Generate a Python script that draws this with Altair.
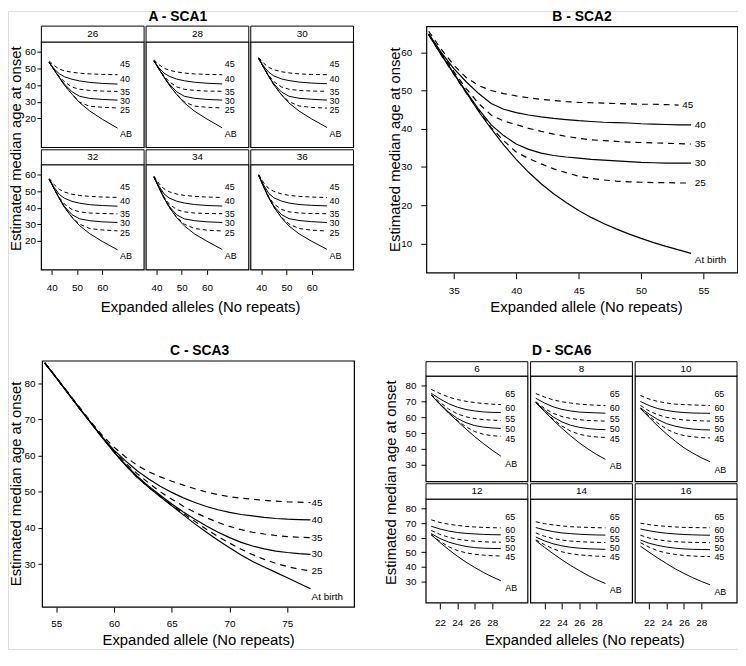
import altair as alt
import pandas as pd

FONT = "Liberation Sans"

# ======================= DATA =======================
# ---- A - SCA1 : six lattice panels, curves by age ----
A_PANELS = ["26", "28", "30", "32", "34", "36"]
A_CURVES = ["AB", "25", "30", "35", "40", "45"]
A_DASHED = ["25", "35", "45"]
A_X = [39, 41, 43, 45, 48, 51, 55, 60, 66]
A26 = [[53.5, 49.0, 44.5, 40.0, 34.5, 29.5, 24.5, 19.5, 14.2],
       [53.5, 49.0, 44.5, 40.0, 34.6, 29.7, 27.3, 26.7, 26.3],
       [53.5, 49.0, 44.6, 40.6, 36.0, 33.3, 32.0, 31.4, 31.0],
       [53.5, 49.1, 45.1, 42.0, 38.8, 37.5, 36.8, 36.4, 36.2],
       [53.6, 49.6, 46.8, 45.0, 43.5, 42.5, 41.6, 41.0, 40.6],
       [54.4, 51.6, 49.6, 48.5, 47.7, 47.1, 46.7, 46.4, 46.2]]
A28 = [[54.5, 49.6, 44.8, 40.1, 34.3, 29.4, 24.4, 19.6, 14.4],
       [54.5, 49.6, 44.8, 40.1, 34.5, 30.0, 27.4, 26.7, 26.3],
       [54.5, 49.6, 44.9, 40.7, 36.0, 33.3, 32.1, 31.4, 31.0],
       [54.5, 49.8, 45.4, 42.1, 38.9, 37.5, 36.8, 36.4, 36.3],
       [54.6, 50.3, 47.2, 45.3, 43.6, 42.6, 41.7, 41.1, 40.7],
       [55.2, 52.2, 50.1, 48.9, 47.9, 47.2, 46.7, 46.4, 46.2]]
A30 = [[56.0, 50.5, 45.2, 40.2, 34.2, 29.3, 24.4, 19.7, 14.6],
       [56.0, 50.5, 45.2, 40.2, 34.4, 30.1, 27.5, 26.6, 26.2],
       [56.0, 50.5, 45.3, 40.8, 35.9, 33.3, 32.1, 31.5, 31.0],
       [56.0, 50.7, 45.8, 42.1, 38.9, 37.5, 36.8, 36.4, 36.3],
       [56.1, 51.3, 47.7, 45.5, 43.7, 42.7, 41.8, 41.2, 40.8],
       [56.6, 53.1, 50.6, 49.2, 48.0, 47.3, 46.7, 46.4, 46.2]]
A32 = [[57.0, 51.2, 45.5, 40.3, 34.1, 29.2, 24.4, 19.7, 14.7],
       [57.0, 51.2, 45.5, 40.3, 34.4, 30.1, 27.5, 26.6, 26.1],
       [57.0, 51.2, 45.6, 40.8, 35.8, 33.3, 32.2, 31.5, 31.1],
       [57.0, 51.4, 46.1, 42.2, 38.9, 37.5, 36.8, 36.5, 36.3],
       [57.1, 52.1, 48.0, 45.7, 43.8, 42.7, 41.8, 41.3, 40.9],
       [57.6, 53.8, 51.0, 49.4, 48.1, 47.3, 46.8, 46.4, 46.2]]
A34 = [[58.5, 52.0, 45.8, 40.4, 34.0, 29.1, 24.3, 19.8, 14.9],
       [58.5, 52.0, 45.8, 40.4, 34.3, 30.1, 27.5, 26.5, 26.0],
       [58.5, 52.0, 45.9, 40.9, 35.7, 33.3, 32.2, 31.5, 31.1],
       [58.5, 52.2, 46.4, 42.2, 38.9, 37.5, 36.8, 36.5, 36.4],
       [58.6, 53.0, 48.3, 45.8, 43.9, 42.8, 41.9, 41.3, 41.0],
       [59.0, 54.5, 51.3, 49.6, 48.2, 47.4, 46.8, 46.4, 46.1]]
A36 = [[59.5, 52.5, 46.0, 40.5, 34.0, 29.0, 24.3, 19.8, 15.0],
       [59.5, 52.5, 46.0, 40.5, 34.3, 30.2, 27.5, 26.5, 26.0],
       [59.5, 52.5, 46.1, 41.0, 35.9, 33.4, 32.3, 31.6, 31.1],
       [59.5, 52.7, 46.6, 42.3, 39.0, 37.5, 36.8, 36.5, 36.4],
       [59.6, 53.6, 48.6, 46.0, 44.0, 42.8, 41.9, 41.4, 41.1],
       [60.0, 55.0, 51.5, 49.8, 48.3, 47.4, 46.8, 46.4, 46.1]]
A_SERIES = [A26, A28, A30, A32, A34, A36]
A_LABEL_X = 67.0
A_LABEL_Y = [10.7, 25.0, 30.5, 36.0, 43.8, 52.5]
A_XTICKS = [40, 50, 60]
A_YTICKS = [20, 30, 40, 50, 60]

# ---- B - SCA2 ----
B_CURVES = ["At birth", "25", "30", "35", "40", "45"]
B_DASHED = ["25", "35", "45"]
B_X = [33, 34, 35, 36, 37, 38, 39, 40, 41, 42, 43, 44, 45, 46, 47, 48, 49, 50, 51, 52, 53, 54]
B_X45 = [33, 34, 35, 36, 37, 38, 39, 40, 41, 42, 43, 44, 45, 46, 47, 48, 49, 50, 51, 52, 53]
B_AB = [64.6, 59.5, 54.5, 49.5, 44.5, 40.0, 35.8, 32.0, 28.6, 25.6, 23.0, 20.7, 18.6, 16.8, 15.2, 13.8, 12.5, 11.3, 10.2, 9.2, 8.3, 7.4]
B_25 = [64.6, 59.3, 54.3, 49.4, 44.7, 40.3, 36.9, 33.9, 32.2, 30.8, 29.5, 28.5, 27.6, 27.0, 26.6, 26.3, 26.1, 26.0, 25.9, 25.9, 25.8, 25.8]
B_30 = [64.6, 59.4, 54.5, 49.7, 45.1, 41.0, 38.2, 36.0, 34.6, 33.6, 33.0, 32.6, 32.3, 32.0, 31.8, 31.6, 31.4, 31.2, 31.1, 31.0, 31.0, 31.0]
B_35 = [64.8, 59.8, 55.0, 50.5, 46.6, 43.6, 42.0, 41.1, 40.1, 39.3, 38.6, 38.0, 37.5, 37.1, 36.9, 36.7, 36.5, 36.4, 36.3, 36.2, 36.1, 36.0]
B_40 = [64.8, 60.0, 55.8, 52.3, 49.2, 46.6, 45.1, 44.2, 43.6, 43.1, 42.7, 42.4, 42.1, 41.9, 41.7, 41.6, 41.5, 41.3, 41.2, 41.1, 41.0, 41.0]
B_45 = [65.5, 60.8, 56.7, 53.4, 51.3, 50.0, 49.2, 48.6, 48.1, 47.7, 47.4, 47.1, 46.9, 46.8, 46.7, 46.6, 46.5, 46.4, 46.4, 46.3, 46.2]
B_LABEL_X = [54.3, 54.3, 54.3, 54.3, 54.3, 53.3]
B_LABEL_Y = [5.6, 25.8, 31.0, 36.0, 41.0, 46.3]
B_XTICKS = [35, 40, 45, 50, 55]
B_YTICKS = [10, 20, 30, 40, 50, 60]

# ---- C - SCA3 ----
C_CURVES = ["At birth", "25", "30", "35", "40", "45"]
C_DASHED = ["25", "35", "45"]
C_X = [54, 55, 56, 57, 58, 59, 60, 61, 62, 63, 64, 65, 66, 67, 68, 69, 70, 71, 72, 73, 74, 75, 76, 77]
C_AB = [85.6, 81.5, 77.3, 73.1, 69.0, 64.9, 60.9, 57.3, 54.0, 51.2, 48.6, 46.1, 43.6, 41.1, 38.8, 36.6, 34.5, 32.5, 30.7, 29.2, 27.7, 26.2, 24.7, 23.2]
C_25 = [85.6, 81.5, 77.3, 73.1, 69.0, 64.9, 60.9, 57.3, 54.0, 51.2, 48.7, 46.3, 44.0, 41.8, 39.6, 37.6, 35.8, 34.1, 32.6, 31.3, 30.2, 29.3, 28.6, 28.1]
C_30 = [85.6, 81.5, 77.3, 73.1, 69.0, 64.9, 61.0, 57.5, 54.3, 51.5, 49.0, 46.6, 44.4, 42.4, 40.5, 38.8, 37.3, 36.0, 35.0, 34.2, 33.6, 33.2, 32.9, 32.7]
C_35 = [85.6, 81.5, 77.3, 73.1, 69.0, 65.0, 61.2, 57.9, 55.0, 52.4, 50.0, 47.9, 46.0, 44.3, 42.8, 41.5, 40.4, 39.5, 38.8, 38.3, 37.9, 37.6, 37.4, 37.3]
C_40 = [85.6, 81.5, 77.3, 73.1, 69.0, 65.1, 61.5, 58.5, 55.8, 53.5, 51.5, 49.8, 48.3, 47.0, 45.9, 45.0, 44.3, 43.7, 43.3, 42.9, 42.6, 42.4, 42.3, 42.2]
C_45 = [85.6, 81.6, 77.5, 73.4, 69.3, 65.5, 62.3, 59.6, 57.3, 55.5, 54.1, 52.9, 51.8, 50.8, 49.9, 49.2, 48.6, 48.2, 47.9, 47.6, 47.4, 47.2, 47.1, 47.0]
C_LABEL_X = 77.1
C_LABEL_Y = [20.9, 28.1, 32.7, 37.3, 42.2, 47.0]
C_XTICKS = [55, 60, 65, 70, 75]
C_YTICKS = [30, 40, 50, 60, 70, 80]

# ---- D - SCA6 : six lattice panels ----
D_PANELS = ["6", "8", "10", "12", "14", "16"]
D_CURVES = ["AB", "45", "50", "55", "60", "65"]
D_DASHED = ["45", "55", "65"]
D_X = [21, 22, 23, 24, 25, 26, 27, 28, 29]
D6 = [[74.0, 68.2, 62.7, 57.6, 52.6, 47.8, 43.4, 39.3, 35.5],
      [74.0, 68.3, 62.8, 58.0, 54.0, 51.0, 49.3, 48.4, 48.0],
      [74.0, 68.5, 63.3, 59.3, 56.6, 54.8, 53.8, 53.3, 53.0],
      [74.3, 69.5, 65.2, 62.2, 60.3, 59.2, 58.6, 58.2, 58.0],
      [75.2, 71.6, 68.6, 66.4, 64.9, 64.0, 63.4, 63.1, 63.0],
      [77.6, 75.0, 72.8, 71.2, 70.1, 69.3, 68.7, 68.3, 68.0]]
D8 = [[69.3, 63.6, 58.2, 53.1, 48.3, 43.9, 40.0, 36.5, 33.5],
      [69.3, 63.8, 58.8, 54.5, 51.3, 49.3, 48.2, 47.6, 47.3],
      [69.4, 64.6, 60.2, 57.1, 55.0, 53.7, 52.9, 52.4, 52.2],
      [69.8, 65.6, 62.5, 60.5, 59.3, 58.5, 58.0, 57.8, 57.6],
      [72.0, 69.0, 66.6, 65.0, 64.0, 63.3, 63.0, 62.8, 62.6],
      [75.0, 72.8, 71.0, 69.8, 69.0, 68.3, 67.9, 67.6, 67.4]]
D10 = [[65.5, 60.0, 54.5, 49.5, 45.0, 40.8, 37.5, 34.5, 32.0],
       [65.6, 60.8, 56.3, 52.6, 50.0, 48.5, 47.7, 47.2, 47.0],
       [66.0, 62.0, 58.6, 56.0, 54.4, 53.3, 52.6, 52.2, 52.0],
       [67.5, 64.0, 61.6, 60.0, 59.0, 58.3, 58.0, 57.8, 57.6],
       [70.0, 67.4, 65.5, 64.3, 63.5, 63.0, 62.7, 62.6, 62.5],
       [73.8, 71.5, 70.0, 69.0, 68.3, 68.0, 67.8, 67.6, 67.5]]
D12 = [[62.0, 56.8, 51.8, 47.3, 43.2, 39.5, 36.1, 33.1, 30.4],
       [62.0, 57.5, 53.8, 51.2, 49.6, 48.6, 48.0, 47.6, 47.4],
       [62.8, 59.5, 57.0, 55.3, 54.0, 53.2, 52.8, 52.6, 52.5],
       [65.0, 62.3, 60.3, 59.0, 58.2, 57.6, 57.2, 57.0, 56.9],
       [67.9, 66.0, 64.6, 63.6, 63.0, 62.6, 62.3, 62.1, 62.0],
       [72.3, 70.5, 69.3, 68.5, 67.8, 67.4, 67.1, 66.9, 66.8]]
D14 = [[58.0, 53.4, 49.0, 44.8, 40.9, 37.4, 34.0, 31.0, 28.5],
       [58.5, 55.2, 52.3, 50.3, 49.0, 48.2, 47.7, 47.3, 47.1],
       [60.5, 57.8, 55.8, 54.4, 53.4, 52.8, 52.4, 52.2, 52.0],
       [63.3, 61.0, 59.4, 58.4, 57.7, 57.3, 57.0, 56.8, 56.7],
       [67.0, 65.4, 64.2, 63.3, 62.8, 62.4, 62.1, 61.9, 61.8],
       [71.0, 69.7, 68.8, 68.1, 67.6, 67.3, 67.1, 66.9, 66.8]]
D16 = [[54.2, 50.0, 46.0, 42.2, 38.6, 35.4, 32.5, 29.9, 27.6],
       [56.6, 53.5, 51.0, 49.5, 48.5, 47.8, 47.4, 47.1, 47.0],
       [58.4, 56.2, 54.7, 53.6, 52.8, 52.3, 52.0, 51.9, 51.8],
       [61.7, 59.8, 58.6, 57.8, 57.3, 57.0, 56.8, 56.7, 56.6],
       [66.0, 64.8, 63.8, 63.1, 62.6, 62.2, 62.0, 61.8, 61.7],
       [70.0, 69.0, 68.3, 67.8, 67.4, 67.1, 67.0, 66.9, 66.8]]
D_SERIES = [D6, D8, D10, D12, D14, D16]
D_LABEL_X = 29.5
D_LABEL_Y = [46.6, 52.7, 58.8, 65.6, 74.5]          # 45, 50, 55, 60, 65
D_AB_LABEL_Y = [30.6, 29.0, 27.0, 25.4, 23.9, 22.7]  # per panel
D_XTICKS = [22, 24, 26, 28]
D_YTICKS = [30, 40, 50, 60, 70, 80]

# ======================= LAYOUT (reference pixel geometry) =======================
W, H = 737, 644


def fx(X):
    return X - 8.0


def fy(Y):
    return (Y - 1.0) * 0.968


ONE = pd.DataFrame({"k": [0]})


def sc(dom, rng):
    return alt.Scale(domain=list(dom), range=list(rng), nice=False, zero=False)


def series_df(curves, xlists, ylists, dashed):
    rows = []
    for name, xs, ys in zip(curves, xlists, ylists):
        style = "dashed" if name in dashed else "solid"
        for x, y in zip(xs, ys):
            rows.append({"curve": name, "x": x, "y": y, "style": style})
    return pd.DataFrame(rows)


def labels_df(names, xs, ys):
    return pd.DataFrame({"label": names, "x": xs, "y": ys})


def y_axis(left, values, tick, pad):
    return alt.Axis(orient="left", offset=-left, values=values, tickSize=tick,
                    labelPadding=pad, labelFontSize=10, labelFont=FONT,
                    labelColor="black", tickColor="black", tickWidth=1,
                    domain=False, grid=False, title=None,
                    labelFlush=False, labelOverlap=False)


def x_axis(bottom, values, tick, pad):
    return alt.Axis(orient="bottom", offset=bottom - H, values=values, tickSize=tick,
                    labelPadding=pad, labelFontSize=10, labelFont=FONT,
                    labelColor="black", tickColor="black", tickWidth=1,
                    domain=False, grid=False, title=None,
                    labelFlush=False, labelOverlap=False)


def panel(df, lab, xdom, ydom, xr, yr, xax, yax, dash, lw, fs, frame_w):
    xs, ys = sc(xdom, xr), sc(ydom, yr)
    ex = alt.X("x:Q", scale=xs, axis=xax)
    ey = alt.Y("y:Q", scale=ys, axis=yax)
    solid = alt.Chart(df[df["style"] == "solid"]).mark_line(
        color="black", strokeWidth=lw).encode(x=ex, y=ey, detail="curve:N")
    dashed = alt.Chart(df[df["style"] == "dashed"]).mark_line(
        color="black", strokeWidth=lw, strokeDash=dash).encode(x=ex, y=ey, detail="curve:N")
    text = alt.Chart(lab).mark_text(align="left", baseline="middle", font=FONT,
                                    fontSize=fs, color="black").encode(x=ex, y=ey, text="label:N")
    frame = alt.Chart(ONE).mark_rect(fill="transparent", stroke="black",
                                     strokeWidth=frame_w).encode(
        x=alt.XDatum(xdom[0], type="quantitative", scale=xs, axis=xax),
        x2=alt.X2Datum(xdom[1]),
        y=alt.YDatum(ydom[0], type="quantitative", scale=ys, axis=yax),
        y2=alt.Y2Datum(ydom[1]))
    return alt.layer(solid, dashed, text, frame)


def strip(label, x0, x1, ytop, ybot):
    xs, ys = sc([0, 1], [x0, x1]), sc([0, 1], [ybot, ytop])
    d = pd.DataFrame({"label": [label]})
    box = alt.Chart(d).mark_rect(fill="white", stroke="black", strokeWidth=1).encode(
        x=alt.XDatum(0, type="quantitative", scale=xs, axis=None),
        x2=alt.X2Datum(1),
        y=alt.YDatum(0, type="quantitative", scale=ys, axis=None),
        y2=alt.Y2Datum(1))
    txt = alt.Chart(d).mark_text(font=FONT, fontSize=10, color="black",
                                 baseline="middle", align="center").encode(
        x=alt.XDatum(0.5, type="quantitative", scale=xs, axis=None),
        y=alt.YDatum(0.5, type="quantitative", scale=ys, axis=None),
        text="label:N")
    return alt.layer(box, txt)


def htitle(text, xc, yc, size, weight):
    xs = sc([0, 1], [xc - 1, xc + 1])
    ax = alt.Axis(orient="top", offset=-yc, title=text, labels=False, ticks=False,
                  domain=False, grid=False, minExtent=0, maxExtent=0, titlePadding=0,
                  titleBaseline="middle", titleAlign="center", titleFont=FONT,
                  titleFontSize=size, titleFontWeight=weight, titleColor="black")
    return alt.Chart(ONE).mark_point(opacity=0).encode(
        x=alt.XDatum(0, type="quantitative", scale=xs, axis=ax))


def vtitle(text, xc, yc, size):
    ys = sc([0, 1], [yc + 1, yc - 1])
    ax = alt.Axis(orient="left", offset=-xc, title=text, labels=False, ticks=False,
                  domain=False, grid=False, minExtent=0, maxExtent=0, titlePadding=0,
                  titleBaseline="middle", titleAlign="center", titleFont=FONT,
                  titleFontSize=size, titleFontWeight="normal", titleColor="black")
    return alt.Chart(ONE).mark_point(opacity=0).encode(
        y=alt.YDatum(0, type="quantitative", scale=ys, axis=ax))


layers = []
YT = "Estimated median age at onset"

# ---------------- A ----------------
A_XDOM, A_YDOM = [35.9, 76.5], [2.6, 65.8]
A_COL_LEFT, A_COL_W = [41.7, 147.4, 253.1], 103.7
A_ROWS = [(16.7, 33.3, 143.3), (145.7, 161.3, 271.0)]
for i, pname in enumerate(A_PANELS):
    r, c = divmod(i, 3)
    st, pt, pb = A_ROWS[r]
    L, R = fx(A_COL_LEFT[c]), fx(A_COL_LEFT[c] + A_COL_W)
    df = series_df(A_CURVES, [A_X] * 6, A_SERIES[i], A_DASHED)
    lab = labels_df(A_CURVES, [A_LABEL_X] * 6, A_LABEL_Y)
    yax = y_axis(L, A_YTICKS, 4.5, 1.5) if c == 0 else None
    xax = x_axis(fy(pb), A_XTICKS, 4.5, 8) if r == 1 else None
    layers.append(panel(df, lab, A_XDOM, A_YDOM, [L, R], [fy(pb), fy(pt)],
                        xax, yax, [4, 3], 1.0, 9, 1.2))
    layers.append(strip(pname, L, R, fy(st), fy(pt)))
layers.append(htitle("A - SCA1", fx(179), fy(7), 14, "bold"))
layers.append(vtitle(YT, 7.5, fy(144), 15))
layers.append(htitle("Expanded alleles (No repeats)", fx(202), fy(309), 15, "normal"))

# ---------------- B ----------------
B_XDOM, B_YDOM = [32.84, 57.73], [2.3, 66.7]
bL, bR, bT, bB = fx(430.7), fx(744.7), fy(17.3), fy(274.0)
dfB = series_df(B_CURVES, [B_X, B_X, B_X, B_X, B_X, B_X45],
                [B_AB, B_25, B_30, B_35, B_40, B_45], B_DASHED)
labB = labels_df(B_CURVES, B_LABEL_X, B_LABEL_Y)
layers.append(panel(dfB, labB, B_XDOM, B_YDOM, [bL, bR], [bB, bT],
                    x_axis(bB, B_XTICKS, 6, 6.5), y_axis(bL, B_YTICKS, 6, 9),
                    [6, 5], 1.2, 10, 1.2))
layers.append(htitle("B - SCA2", fx(587), fy(7), 14, "bold"))
layers.append(vtitle(YT, fx(398), fy(145), 15))
layers.append(htitle("Expanded allele (No repeats)", fx(591.5), fy(309), 15, "normal"))

# ---------------- C ----------------
C_XDOM, C_YDOM = [53.8, 80.8], [18.1, 86.1]
cL, cR, cT, cB = fx(42.7), fx(357.7), fy(366.0), fy(622.7)
dfC = series_df(C_CURVES, [C_X] * 6, [C_AB, C_25, C_30, C_35, C_40, C_45], C_DASHED)
labC = labels_df(C_CURVES, [C_LABEL_X] * 6, C_LABEL_Y)
layers.append(panel(dfC, labC, C_XDOM, C_YDOM, [cL, cR], [cB, cT],
                    x_axis(cB, C_XTICKS, 5, 7), y_axis(cL, C_YTICKS, 4.5, 3),
                    [6, 5], 1.2, 10, 1.2))
layers.append(htitle("C - SCA3", fx(201), fy(355), 14, "bold"))
layers.append(vtitle(YT, 7.5, fy(493.7), 15))
layers.append(htitle("Expanded allele (No repeats)", fx(200), fy(656.5), 15, "normal"))

# ---------------- D ----------------
D_XDOM = [20.4, 32.1]
D_YDOMS = [[19.5, 86.0], [15.1, 86.6]]
D_COL_LEFT, D_COL_W = [430.0, 535.6, 641.2], 102.8
D_ROWS = [(366.7, 381.7, 491.7), (494.0, 510.0, 618.3)]
for i, pname in enumerate(D_PANELS):
    r, c = divmod(i, 3)
    st, pt, pb = D_ROWS[r]
    L, R = fx(D_COL_LEFT[c]), fx(D_COL_LEFT[c] + D_COL_W)
    df = series_df(D_CURVES, [D_X] * 6, D_SERIES[i], D_DASHED)
    lab = labels_df(D_CURVES, [D_LABEL_X] * 6, [D_AB_LABEL_Y[i]] + D_LABEL_Y)
    yax = y_axis(L, D_YTICKS, 5, 5) if c == 0 else None
    xax = x_axis(fy(pb), D_XTICKS, 6, 8.5) if r == 1 else None
    layers.append(panel(df, lab, D_XDOM, D_YDOMS[r], [L, R], [fy(pb), fy(pt)],
                        xax, yax, [4, 3], 1.0, 9, 1.2))
    layers.append(strip(pname, L, R, fy(st), fy(pt)))
layers.append(htitle("D - SCA6", fx(566.5), fy(355), 14, "bold"))
layers.append(vtitle(YT, fx(394), fy(492.5), 15))
layers.append(htitle("Expanded alleles (No repeats)", fx(590), fy(656.5), 15, "normal"))

chart = (
    alt.layer(*layers)
    .resolve_scale(x="independent", y="independent")
    .properties(width=W, height=H, padding=0,
                autosize=alt.AutoSizeParams(type="none"))
    .configure_view(stroke="transparent")
    .configure(font=FONT)
)

chart.save("out.html", embed_options={"renderer": "svg", "actions": False})
